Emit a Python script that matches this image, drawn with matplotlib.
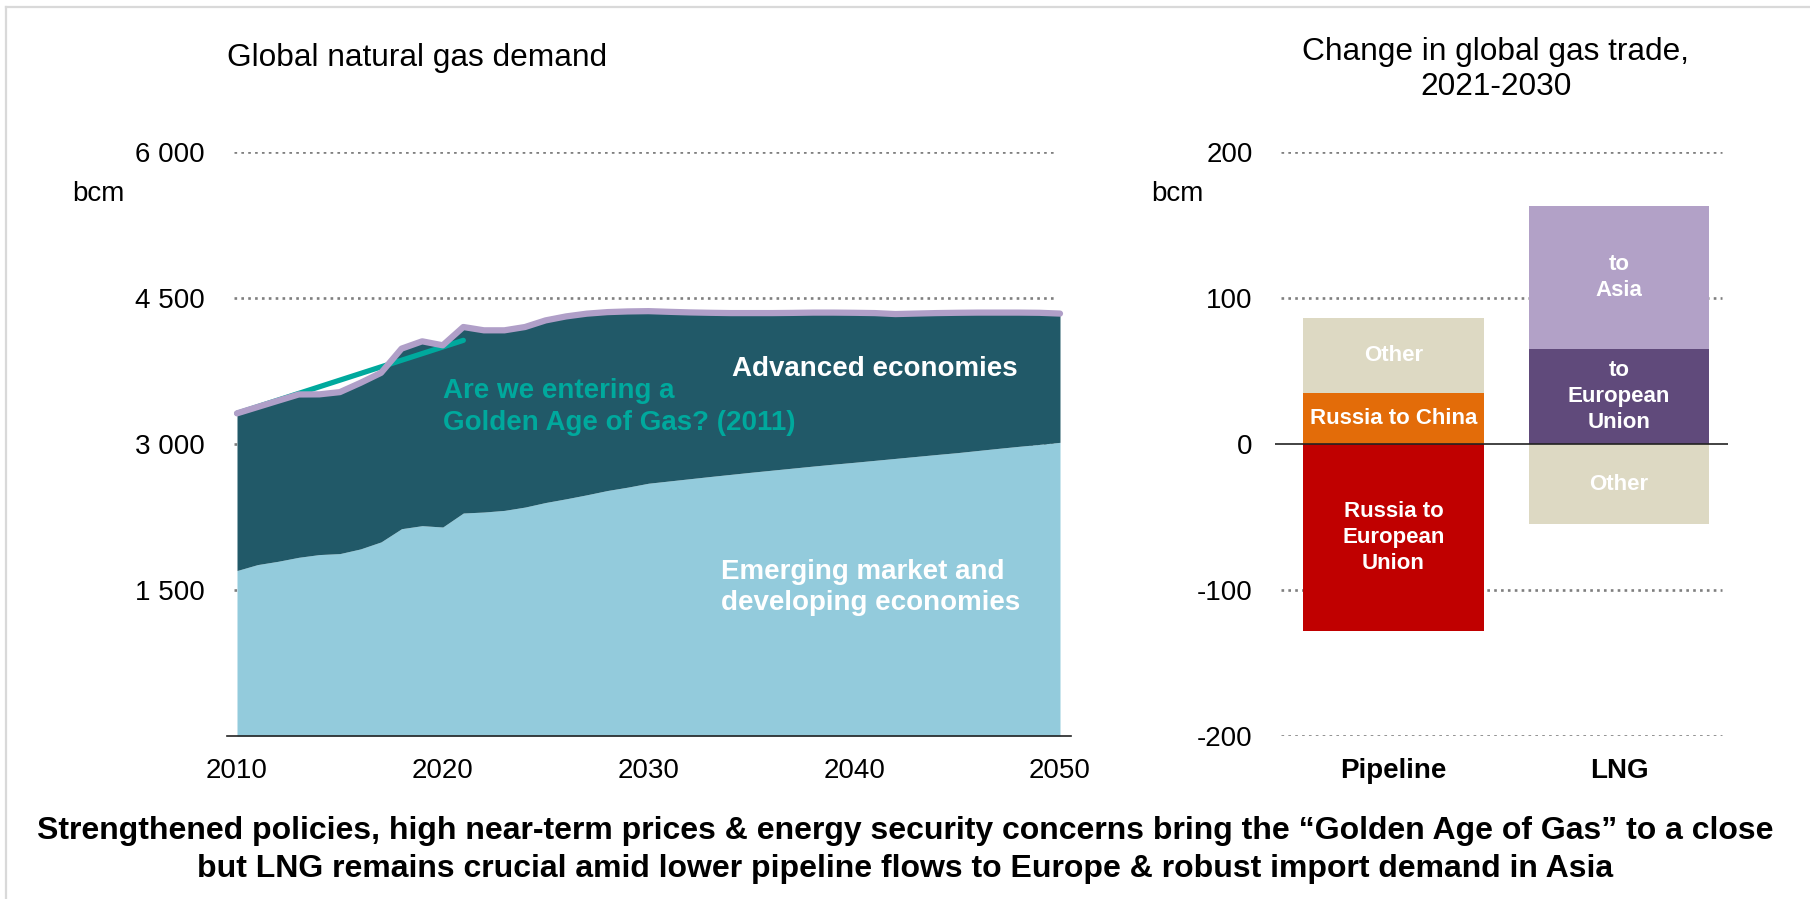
import matplotlib.pyplot as plt
from matplotlib.lines import Line2D
import numpy as np

plt.rcParams['font.family'] = ['Liberation Sans', 'DejaVu Sans']

# global natural gas demand, bcm
years = list(range(2010, 2051))
emde_demand = [1700, 1761, 1795, 1836, 1864, 1874, 1922, 1994, 2130, 2161,
               2147, 2291, 2301, 2318, 2352, 2399, 2437, 2478, 2522, 2557,
               2597, 2620, 2643, 2666, 2688, 2710, 2731, 2752, 2773, 2793,
               2812, 2832, 2852, 2872, 2892, 2911, 2933, 2955, 2976, 2996,
               3017]
total_demand = [3315, 3380, 3445, 3509, 3510, 3533, 3628, 3731, 3980, 4055,
                4014, 4202, 4168, 4168, 4202, 4270, 4311, 4339, 4355, 4362,
                4365, 4358, 4352, 4348, 4345, 4345, 4345, 4347, 4350, 4350,
                4348, 4345, 4335, 4340, 4345, 4348, 4350, 4350, 4350, 4348,
                4340]
# "Golden Age of Gas" (2011) outlook
golden_years = [2010, 2021]
golden_demand = [3315, 4065]
demand_ticks = [1500, 3000, 4500, 6000]
demand_ticklabels = ['1 500', '3 000', '4 500', '6 000']
year_ticks = [2010, 2020, 2030, 2040, 2050]

# change in global gas trade 2021-2030, bcm
trade_routes = ['Pipeline', 'LNG']
pipeline_segments = ['Russia to\nEuropean\nUnion', 'Russia to China', 'Other']
pipeline_values = [-128, 35, 51]
lng_segments = ['Other', 'to\nEuropean\nUnion', 'to\nAsia']
lng_values = [-55, 65, 98]
trade_ticks = [-200, -100, 0, 100, 200]

pipeline_colors = ['#C00000', '#E36C09', '#DDD9C3']
lng_colors = ['#DDD9C3', '#604A7B', '#B2A1C7']

W, H = 1810, 899
fig = plt.figure(figsize=(W / 100, H / 100), dpi=100)


def px_box(l, t, r, b):
    return [l / W, 1 - b / H, (r - l) / W, (b - t) / H]


grid_kw = dict(color='#7F7F7F', lw=1.9, linestyle=(0, (1, 1.6)), zorder=0)

# ---- left: demand area chart
ax = fig.add_axes(px_box(227, 152, 1071, 736))
ax.set_xlim(2009.514, 2050.535)
ax.set_ylim(0, 6000)
for v in demand_ticks:
    ax.plot([2009.85, 2049.8], [v, v], **grid_kw)

emde = np.array(emde_demand)
total = np.array(total_demand)
ax.fill_between(years, 0, emde, color='#93CBDC', lw=0, zorder=1)
ax.fill_between(years, emde, total, color='#215968', lw=0, zorder=1)
ax.plot(golden_years, golden_demand, color='#00A99D', lw=3.8,
        solid_capstyle='round', zorder=2)
ax.plot(years, total, color='#B09FC8', lw=4.5, solid_capstyle='round',
        solid_joinstyle='round', zorder=3)

for s in ['top', 'right', 'left']:
    ax.spines[s].set_visible(False)
ax.spines['bottom'].set_color('#222222')
ax.spines['bottom'].set_linewidth(1.2)
ax.set_yticks(demand_ticks)
ax.set_yticklabels(demand_ticklabels, fontsize=20)
ax.set_xticks(year_ticks)
ax.set_xticklabels([str(y) for y in year_ticks], fontsize=20)
ax.tick_params(axis='y', length=0, pad=16)
ax.tick_params(axis='x', length=0, pad=16)

ax.text(2020.0, 3380, 'Are we entering a\nGolden Age of Gas? (2011)',
        color='#00A99D', fontsize=20, fontweight='bold', ha='left',
        va='center', linespacing=1.3, zorder=4)
ax.text(2034.05, 3770, 'Advanced economies', color='white', fontsize=20,
        fontweight='bold', ha='left', va='center', zorder=4)
ax.text(2033.5, 1521, 'Emerging market and\ndeveloping economies',
        color='white', fontsize=20, fontweight='bold', ha='left',
        va='center', linespacing=1.25, zorder=4)

# ---- right: trade change stacked bars
bx = fig.add_axes(px_box(1275, 152, 1728, 736))
bx.set_xlim(-0.525, 1.483)
bx.set_ylim(-200, 200)
for v in [-200, -100, 100, 200]:
    bx.plot([-0.5, 1.457], [v, v], **grid_kw)


def stack(xpos, names, values, colors):
    pos, neg = 0, 0
    for name, val, col in zip(names, values, colors):
        if val >= 0:
            bottom = pos
            pos += val
        else:
            bottom = neg
            neg += val
        bx.bar(xpos, val, bottom=bottom, width=0.8, color=col, lw=0, zorder=1)
        bx.text(xpos, bottom + val / 2, name, color='white', fontsize=16,
                fontweight='bold', ha='center', va='center',
                linespacing=1.3, zorder=3)


stack(0, pipeline_segments, pipeline_values, pipeline_colors)
stack(1, lng_segments, lng_values, lng_colors)
bx.axhline(0, color='#222222', lw=1.2, zorder=2)

for s in bx.spines.values():
    s.set_visible(False)
bx.set_yticks(trade_ticks)
bx.set_yticklabels([str(t) for t in trade_ticks], fontsize=20)
bx.set_xticks([0, 1])
bx.set_xticklabels(trade_routes, fontsize=20, fontweight='bold')
bx.tick_params(axis='y', length=0, pad=16)
bx.tick_params(axis='x', length=0, pad=16)

# ---- titles, units and caption
fig.text(227 / W, 1 - 58 / H, 'Global natural gas demand', fontsize=22.8,
         ha='left', va='center')
fig.text(1496 / W, 1 - 52 / H, 'Change in global gas trade,', fontsize=22.8,
         ha='center', va='center')
fig.text(1496 / W, 1 - 87 / H, '2021-2030', fontsize=22.8,
         ha='center', va='center')
fig.text(72 / W, 1 - 194 / H, 'bcm', fontsize=20, ha='left', va='center')
fig.text(1151 / W, 1 - 194 / H, 'bcm', fontsize=20, ha='left', va='center')

fig.text(905 / W, 1 - 831 / H,
         'Strengthened policies, high near-term prices & energy security '
         'concerns bring the \u201cGolden Age of Gas\u201d to a close',
         fontsize=23, fontweight='bold', ha='center', va='center')
fig.text(905 / W, 1 - 869 / H,
         'but LNG remains crucial amid lower pipeline flows to Europe & '
         'robust import demand in Asia',
         fontsize=23, fontweight='bold', ha='center', va='center')

# light frame along the top and left edges
fig.add_artist(Line2D([6 / W, 1], [1 - 7 / H, 1 - 7 / H],
                      transform=fig.transFigure, color='#D9D9D9', lw=1.6))
fig.add_artist(Line2D([6 / W, 6 / W], [0, 1 - 7 / H],
                      transform=fig.transFigure, color='#D9D9D9', lw=1.6))

fig.savefig('out.png', dpi=100)
